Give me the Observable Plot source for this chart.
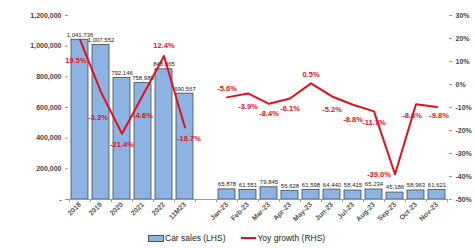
<!DOCTYPE html>
<html>
<head>
<meta charset="utf-8">
<script src="https://cdn.jsdelivr.net/npm/d3@7"></script>
<script src="https://cdn.jsdelivr.net/npm/@observablehq/plot@0.6"></script>
<style>
  html, body { margin: 0; padding: 0; background: #fff; }
  #chart { width: 475px; height: 248px; font-family: "Liberation Sans", Arial, sans-serif; }
  .legend { display: flex; align-items: center; justify-content: flex-start; padding-left: 148px; height: 20px; font-size: 8.5px; color: #222; font-family: "Liberation Sans", Arial, sans-serif; }
  .sw-bar { width: 14px; height: 5px; background: #8DB3E2; border: 1px solid #4a5568; margin-right: 1px; }
  .sw-line { width: 15px; height: 2px; background: #E3101B; margin-right: 1px; position: relative; }
  .item { display: flex; align-items: center; margin-right: 16px; }
</style>
</head>
<body>
<div id="chart"></div>
<script>
const categories = ["2018","2019","2020","2021","2022","11M23","","Jan-23","Feb-23","Mar-23","Apr-23","May-23","Jun-23","Jul-23","Aug-23","Sep-23","Oct-23","Nov-23"];
const sales = [1041736, 1007552, 792146, 758989, 848865, 690567, null, 65878, 61551, 79845, 56628, 61598, 64440, 58415, 65234, 45186, 58963, 61621];
const growth = [19.5, -3.3, -21.4, -4.6, 12.4, -18.7, null, -5.6, -3.9, -8.4, -6.1, 0.5, -5.2, -8.8, -11.7, -39.0, -8.6, -9.8];
const salesTicks = [0, 200000, 400000, 600000, 800000, 1000000, 1200000];
const growthTicks = [-50, -40, -30, -20, -10, 0, 10, 20, 30];

// label offsets (style only)
const labelOffsets = {
  "2018": [-4, 21], "2019": [-3, 26], "2020": [0, 11], "2021": [0, 21], "2022": [0, -10], "11M23": [4, 11],
  "Jan-23": [0, -9], "Feb-23": [0, 13], "Mar-23": [0, 10], "Apr-23": [0, 10], "May-23": [0, -9],
  "Jun-23": [0, 13], "Jul-23": [0, 15], "Aug-23": [0, 11], "Sep-23": [-16, 0], "Oct-23": [-4, 11], "Nov-23": [2, 9]
};

const toLeft = g => (g + 50) * 15000;
const data = categories.map((c, i) => ({cat: c, sales: sales[i], growth: growth[i], group: i < 6 ? "annual" : "monthly"}))
  .filter(d => d.sales != null);

const fmt = d3.format(",");
const red = "#E3101B";
const plotW = 475 - 68 - 27;
const step = plotW / (categories.length - 0.2 + 0.2);

const labelMarks = data.map(d => {
  const [dx, dy] = labelOffsets[d.cat] || [0, 10];
  return Plot.text([d], {x: "cat", y: v => toLeft(v.growth), text: v => v.growth.toFixed(1) + "%", fill: red, fontSize: 7.5, fontWeight: "bold", dx, dy});
});

const chart = Plot.plot({
  width: 475,
  height: 228,
  marginTop: 15,
  marginBottom: 29,
  marginLeft: 68,
  marginRight: 27,
  x: {domain: categories, paddingInner: 0.2, paddingOuter: 0.1, label: null},
  y: {domain: [0, 1200000], label: null},
  style: {fontFamily: "Liberation Sans, Arial, sans-serif", fontSize: "7px", color: "#333", background: "#fff"},
  marks: [
    Plot.barY(data, {x: "cat", y: "sales", fill: "#8DB3E2", stroke: "#3f4a5c", strokeWidth: 0.8}),
    Plot.text(data, {x: "cat", y: "sales", text: d => fmt(d.sales), dy: -5, fontSize: 6, fill: "#222"}),
    Plot.line(data, {x: "cat", y: d => toLeft(d.growth), z: "group", stroke: red, strokeWidth: 2}),
    ...labelMarks,
    Plot.ruleY([0], {stroke: "#999"}),
    Plot.ruleX(categories, {x: d => d, y1: 0, y2: -20000, dx: -step / 2, stroke: "#999"}),
    Plot.ruleX(categories.slice(-1), {x: d => d, y1: 0, y2: -20000, dx: step / 2, stroke: "#999"}),
    Plot.axisX({tickRotate: -45, tickSize: 0, tickPadding: 4, fontSize: 7, fontWeight: "bold", fill: "#555", tickFormat: d => d}),
    Plot.axisY({anchor: "left", ticks: salesTicks, tickFormat: d => d === 0 ? "-" : fmt(d), tickSize: 3, tickPadding: 4, line: true, stroke: "#999", fontSize: 7, fontWeight: "bold", fill: "#444", label: null}),
    Plot.axisY({anchor: "right", ticks: growthTicks.map(toLeft), tickFormat: v => Math.round(v / 15000 - 50) + "%", tickSize: 3, tickPadding: 4, line: true, stroke: "#999", fontSize: 7, fontWeight: "bold", fill: "#444", label: null})
  ]
});

const root = document.getElementById("chart");
root.appendChild(chart);
const legend = document.createElement("div");
legend.className = "legend";
legend.innerHTML = '<div class="item"><div class="sw-bar"></div><span>Car sales (LHS)</span></div><div class="item"><div class="sw-line"></div><span>Yoy growth (RHS)</span></div>';
root.appendChild(legend);
</script>
</body>
</html>
